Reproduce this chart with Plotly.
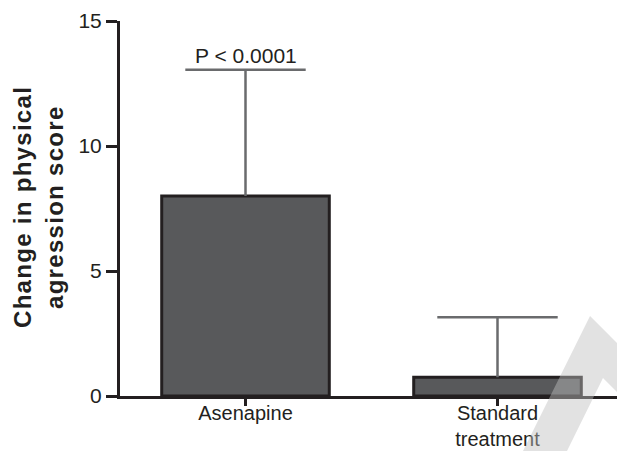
import plotly.graph_objects as go

# ---- data ----
categories = ["Asenapine", "Standard<br>treatment"]
means = [8.0, 0.75]
err_upper = [5.05, 2.4]
p_label = "P < 0.0001"
y_ticks = [0, 5, 10, 15]
y_title_lines = ["Change in physical", "agression score"]

# ---- layout constants ----
W, H = 617, 451
L, R, T, B = 120, 0, 21, 55
PW, PH = W - L - R, H - T - B
DARK = "#231f20"
BAR = "#58595b"
ERR = "#6a6b6d"
FONT = "Liberation Sans, Arial, Helvetica, sans-serif"


def px(x):
    return (x - L) / PW


def py(y):
    return (H - B - y) / PH


fig = go.Figure()

fig.add_trace(go.Bar(
    x=categories, y=means, width=0.665,
    marker=dict(color=BAR, line=dict(color=DARK, width=3)),
    error_y=dict(type="data", symmetric=False, array=err_upper,
                 arrayminus=[0] * len(means), width=0,
                 thickness=2.5, color=ERR),
    showlegend=False, hoverinfo="skip",
))

# caps of the error bars
fig.add_trace(go.Scatter(
    x=categories, y=[m + e for m, e in zip(means, err_upper)],
    mode="markers",
    marker=dict(symbol="line-ew", size=86, color=ERR,
                line=dict(color=ERR, width=2.5)),
    showlegend=False, hoverinfo="skip", cliponaxis=False,
))

fig.add_annotation(
    x=categories[0], y=means[0] + err_upper[0], text=p_label,
    showarrow=False, yanchor="bottom", yshift=1,
    font=dict(family=FONT, size=21, color=DARK),
)

# y-axis title, two lines
for line, cx in zip(y_title_lines, [22, 54]):
    fig.add_annotation(
        xref="paper", yref="paper", x=px(cx), y=py(207),
        text=f'<span style="letter-spacing:1.3px"><b>{line}</b></span>',
        textangle=-90, showarrow=False,
        xanchor="center", yanchor="middle",
        font=dict(family=FONT, size=24, color=DARK),
    )

# watermark
wm = [(523, 451), (590, 316), (617, 343), (617, 392), (603, 378), (567, 451)]
path = "M " + " L ".join(f"{px(a):.4f},{py(b):.4f}" for a, b in wm) + " Z"
fig.add_shape(type="path", path=path, xref="paper", yref="paper",
              fillcolor="rgba(190,190,190,0.45)", line=dict(width=0),
              layer="above")

fig.update_xaxes(
    range=[-0.498, -0.498 + PW / 252],
    showline=True, linewidth=3, linecolor=DARK,
    ticks="outside", ticklen=7, tickwidth=3, tickcolor=DARK,
    showgrid=False, zeroline=False, automargin=False,
    ticklabelstandoff=-10,
    tickfont=dict(family=FONT, size=20, color=DARK),
)
fig.update_yaxes(
    range=[0, 15], tickvals=y_ticks,
    showline=True, linewidth=3, linecolor=DARK,
    ticks="outside", ticklen=11, tickwidth=3, tickcolor=DARK,
    showgrid=False, zeroline=False, automargin=False,
    tickfont=dict(family=FONT, size=21, color=DARK),
)

fig.update_layout(
    width=W, height=H,
    margin=dict(l=L, r=R, t=T, b=B, pad=0),
    plot_bgcolor="white", paper_bgcolor="white",
    font=dict(family=FONT, color=DARK),
)

fig.write_html(
    "out.html",
    config={"displayModeBar": False},
    post_script="document.body.style.margin='0';"
                "document.body.style.overflow='hidden';",
)
